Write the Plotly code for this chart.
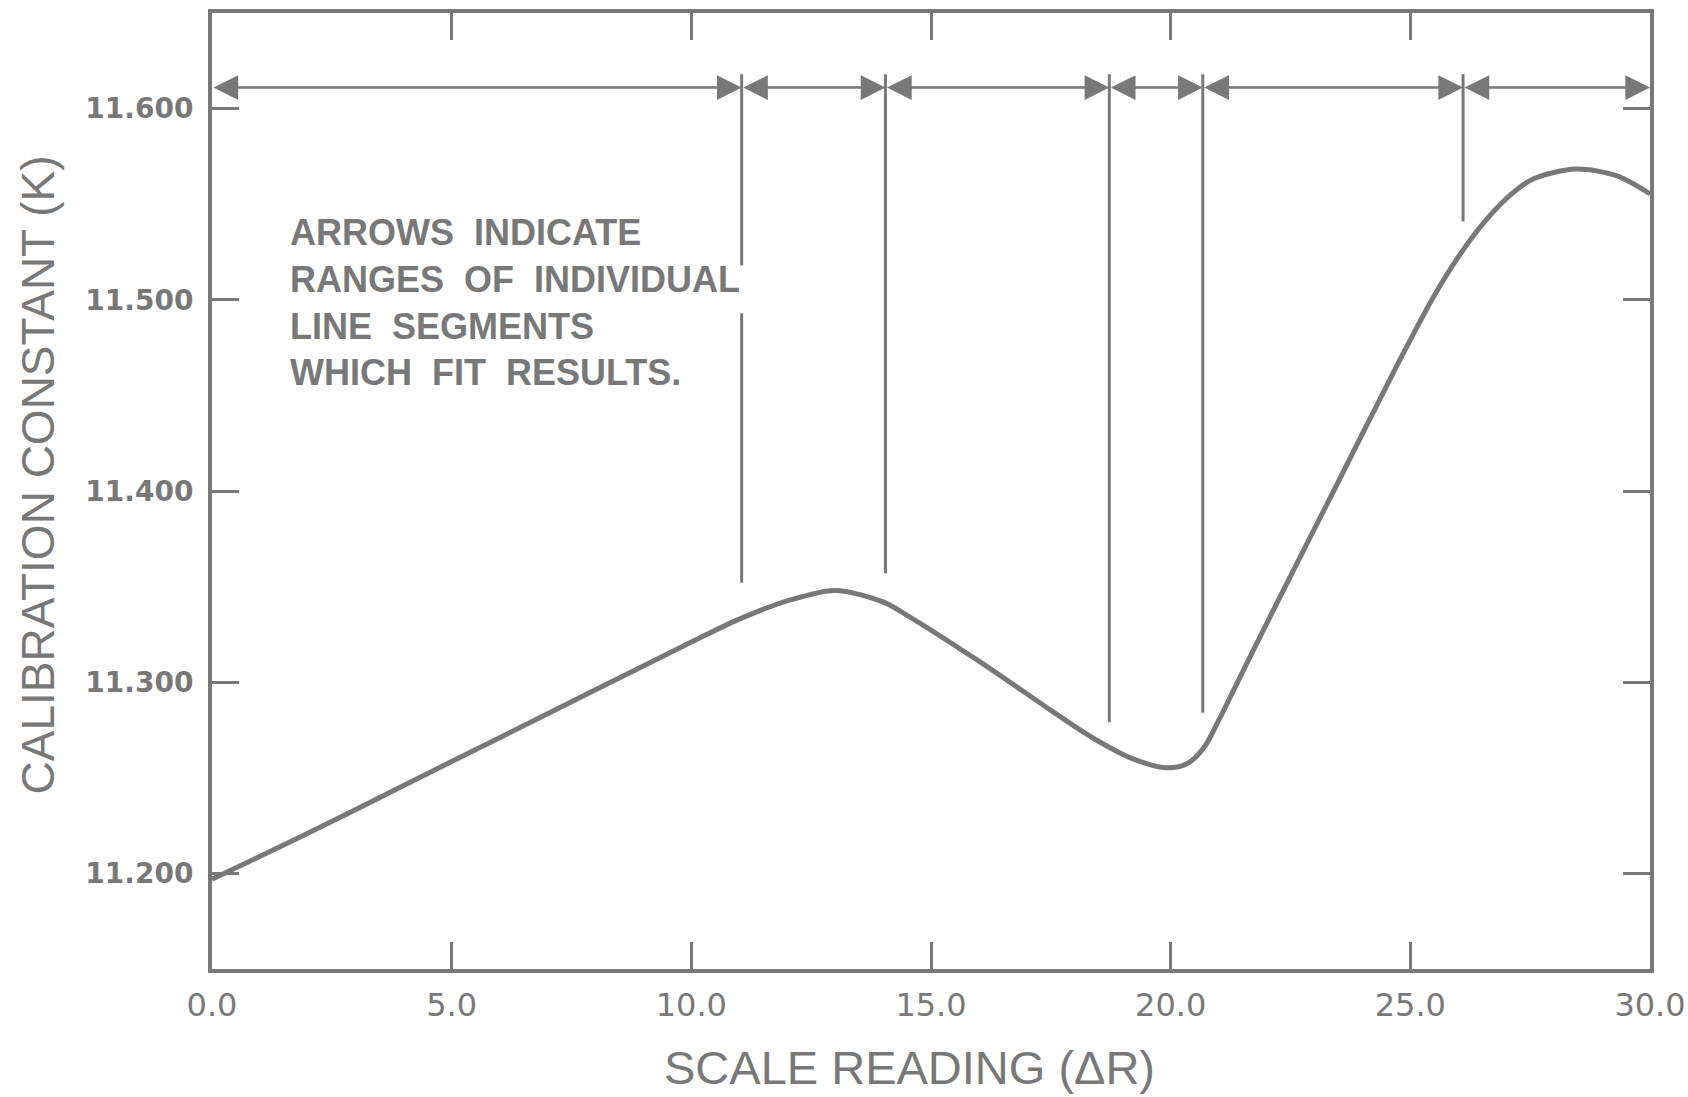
import plotly.graph_objects as go

# ---- data ----
x_curve = [0, 2, 4, 6, 8, 10, 11, 12, 13, 14, 14.5, 16, 17.4, 18.1, 18.5,
           19.2, 19.9, 20.35, 20.7, 21.0, 21.65, 22.35, 23.4, 24.77, 25.47,
           26.03, 26.52, 27.07, 27.56, 28.46, 29.3, 30]
y_curve = [11.197, 11.221, 11.246, 11.271, 11.296, 11.321, 11.333, 11.3425,
           11.348, 11.342, 11.335, 11.311, 11.287, 11.2752, 11.269, 11.2600,
           11.2553, 11.2575, 11.266, 11.280, 11.313, 11.348, 11.400, 11.468,
           11.501, 11.5235, 11.540, 11.5545, 11.5632, 11.5684, 11.5649,
           11.5554]

divider_x = [11.05, 14.05, 18.72, 20.67, 26.1]
divider_top = 11.618
divider_bottom = [11.352, 11.357, 11.279, 11.284, 11.541]
gap_x = 11.05
gap_range = [11.518, 11.493]

segment_bounds = [0, 11.05, 14.05, 18.72, 20.67, 26.1, 30]
arrow_y = 11.611

x_ticks = [0, 5, 10, 15, 20, 25, 30]
y_ticks = [11.2, 11.3, 11.4, 11.5, 11.6]

note_lines = ["ARROWS \u00a0INDICATE", "RANGES \u00a0OF \u00a0INDIVIDUAL",
              "LINE \u00a0SEGMENTS", "WHICH \u00a0FIT \u00a0RESULTS."]
x_title = "SCALE READING (ΔR)"
y_title = "CALIBRATION CONSTANT (K)"

INK = "#787878"

fig = go.Figure()

fig.add_trace(go.Scatter(
    x=x_curve, y=y_curve, mode="lines",
    line=dict(color=INK, width=5, shape="spline", smoothing=0.85),
    hoverinfo="skip", showlegend=False))

# vertical divider lines (with gap for the first one around the note text)
for xv, yb in zip(divider_x, divider_bottom):
    if xv == gap_x:
        xs = [xv, xv, None, xv, xv]
        ys = [divider_top, gap_range[0], None, gap_range[1], yb]
    else:
        xs = [xv, xv]
        ys = [divider_top, yb]
    fig.add_trace(go.Scatter(
        x=xs, y=ys, mode="lines", line=dict(color=INK, width=3),
        hoverinfo="skip", showlegend=False))

# double-headed arrows between dividers
for a, b in zip(segment_bounds[:-1], segment_bounds[1:]):
    fig.add_annotation(
        x=b, y=arrow_y, ax=a, ay=arrow_y, xref="x", yref="y",
        axref="x", ayref="y", text="", showarrow=True,
        arrowhead=2, startarrowhead=2, arrowside="end+start",
        arrowsize=1.9, startarrowsize=1.9, arrowwidth=2.6, arrowcolor=INK)

fig.add_annotation(
    x=1.59, y=11.4986, xref="x", yref="y", xanchor="left", yanchor="middle",
    align="left", showarrow=False, text="<br>".join(note_lines),
    font=dict(family="Liberation Sans", size=36, color=INK, weight="bold"))

fig.add_annotation(
    x=0.4851, y=-0.1328, xref="paper", yref="paper", xanchor="center",
    yanchor="bottom", showarrow=False, text=x_title,
    font=dict(family="Liberation Sans", size=47, color=INK))
fig.add_annotation(
    x=-0.1212, y=0.517, xref="paper", yref="paper", xanchor="center",
    yanchor="middle", showarrow=False, text=y_title, textangle=-90,
    font=dict(family="Liberation Sans", size=46, color=INK))

fig.update_xaxes(
    range=[0, 30], tickvals=x_ticks, tickformat=".1f",
    ticks="inside", ticklen=27, tickwidth=3, tickcolor=INK,
    showline=True, linewidth=4, linecolor=INK, mirror="allticks",
    showgrid=False, zeroline=False, ticklabelstandoff=5,
    ticklabeloverflow="allow", fixedrange=True,
    tickfont=dict(family="DejaVu Sans", size=32, color=INK))
fig.update_yaxes(
    range=[11.15, 11.65], tickvals=y_ticks, tickformat=".3f",
    ticks="inside", ticklen=27, tickwidth=3, tickcolor=INK,
    showline=True, linewidth=4, linecolor=INK, mirror="allticks",
    showgrid=False, zeroline=False, ticklabelstandoff=9,
    ticklabeloverflow="allow", fixedrange=True,
    tickfont=dict(family="DejaVu Sans", size=28, color=INK, weight="bold"))

fig.update_layout(
    width=1688, height=1097,
    margin=dict(l=212, r=38, t=13, b=128, autoexpand=False),
    paper_bgcolor="white", plot_bgcolor="white", showlegend=False,
    hovermode=False)

# remove the browser's default 8px body margin so the figure fills the window
fig.write_html(
    "out.html",
    config={"displayModeBar": False, "staticPlot": True},
    post_script="document.body.style.margin='0';"
                "document.body.style.overflow='hidden';")
